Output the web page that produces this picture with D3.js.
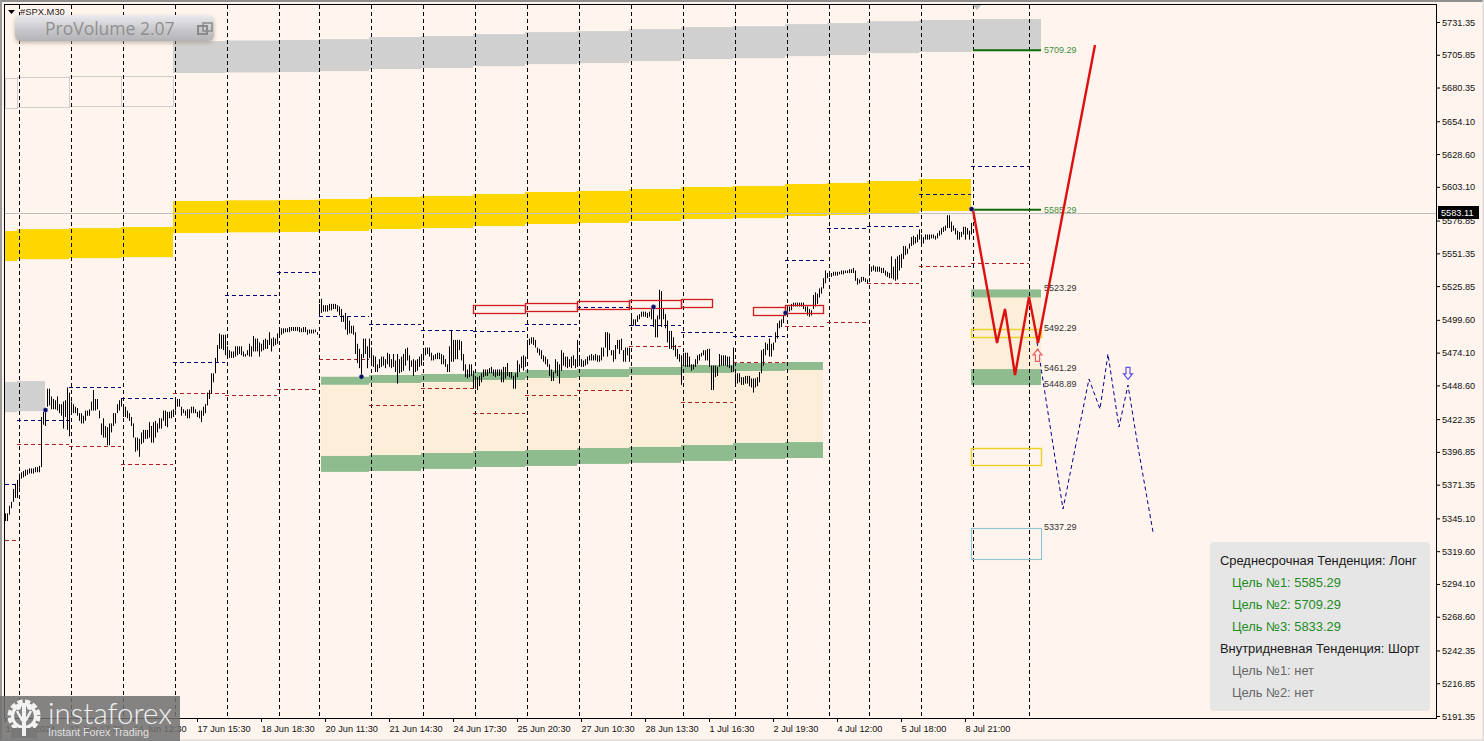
<!DOCTYPE html>
<html><head><meta charset="utf-8">
<script src="https://cdnjs.cloudflare.com/ajax/libs/d3/7.8.5/d3.min.js"></script>
<style>
html,body{margin:0;padding:0;background:#fff5ee;overflow:hidden}
svg{display:block}
text{font-family:"Liberation Sans",Arial,sans-serif}
</style></head><body>
<svg id="c" width="1484" height="741"></svg>
<script>
// ---------- data ----------
const priceTicks=[5731.35,5705.85,5680.35,5654.10,5628.60,5603.10,5576.85,5551.35,5525.85,5499.60,5474.10,5448.60,5422.35,5396.85,5371.35,5345.10,5319.60,5294.10,5268.60,5242.35,5216.85,5191.35];
const timeTickLabels=["11 Jun 2024","12 Jun 17:30","14 Jun 12:30","17 Jun 15:30","18 Jun 18:30","20 Jun 11:30","21 Jun 14:30","24 Jun 17:30","25 Jun 20:30","27 Jun 10:30","28 Jun 13:30","1 Jul 16:30","2 Jul 19:30","4 Jul 12:00","5 Jul 18:00","8 Jul 21:00"];
const timeTickBars=[0,32,64,96,128,160,192,224,256,288,320,352,384,416,448,480];
const daySeparators=[7,33,59,85,111,137,157,183,209,235,261,287,313,339,365,391,412,432,458,484,512];
const sessionEdges=[0,6,32,58,84,110,136,157,182,208,234,260,286,312,338,364,390,411,431,457,483,512];
const dailyHigh=[5371.9,5421.7,5447.4,5438.8,5466.8,5519.0,5536.8,5502.6,5496.4,5491.7,5490.9,5496.4,5509.6,5495.6,5490.1,5487.0,5546.2,5571.1,5572.6,5597.5,5619.3];
const dailyLow=[5328.3,5403.0,5401.4,5387.4,5442.7,5441.1,5445.8,5469.1,5433.3,5446.6,5427.1,5441.1,5445.0,5479.2,5435.7,5466.8,5494.8,5497.9,5528.3,5541.5,5543.8];

const goldEdgesEarly=[0,6,32,58,84];
const goldTopEarly=[5568.7,5570.2,5571.0,5571.8];
const goldWidthEarly=23.4;
const goldEdges=[84,110,136,157,182,208,234,260,286,312,338,364,390,411,431,457,483];
const goldTop=[5592.1,5592.6,5592.9,5593.6,5595.2,5596.0,5597.5,5599.1,5599.9,5601.4,5603.0,5603.7,5605.3,5606.1,5607.6,5609.2];
const goldWidth=24.9;
const grayEdges=[84,110,136,157,182,208,234,260,286,312,338,364,390,411,431,457,483,518];
const grayTop=[5716.5,5717.0,5717.3,5718.0,5719.6,5720.4,5721.9,5723.5,5724.3,5725.8,5727.4,5728.1,5729.7,5730.5,5732.0,5732.9,5733.7];
const grayBandWidth=24.9;
const hollowEdges=[0,6,32,58,84];
const hollowTop=[5687.5,5688.2,5689.0,5689.7];
const hollowWidth=23.5;
const leftGrayEdges=[0,6,20];
const leftGrayTop=[5451.2,5452.0];
const leftGrayWidth=23.5;

const zoneEdges=[158,182,208,234,260,286,312,338,364,390,409];
const zoneUpper=[5455.3,5456.7,5457.5,5459.0,5460.6,5461.3,5462.9,5464.5,5466.0,5466.8];
const zoneLower=[5393.7,5394.4,5396.0,5397.5,5398.3,5399.9,5400.7,5402.2,5403.8,5404.5];
const zoneUpperWidth=6.2, zoneLowerWidth=12.4;

const redBoxEdges=[234,260,286,312,338,353.5];
const redBoxTop=[5511.2,5512.7,5514.3,5515.0,5515.8];
const redBoxWidth=6.6;
const redBox2Edges=[374,390,409];
const redBox2Top=[5509.6,5511.2];

const targetLevels=[5709.29,5585.29];
const targetBars=[484,518];
const levelNotes=[5523.29,5492.29,5461.29,5448.89,5337.29];
const levelNoteBar=519.5;
const box1=[5523.29,5517.0,5461.29,5448.89];
const boxBars=[483,518];
const yellowBoxA=[5492.29,5486.0];
const yellowBoxB=[5399.9,5386.7];
const blueBox=[5337.29,5313.5];

const redPathBars=[484,496,500,505,512,516.5,545];
const redPathPrices=[5585.0,5481.6,5508.0,5456.7,5517.4,5481.6,5713.5];
const bluePathBars=[516,529,542,547.5,551.5,557,561.5,566.5,574];
const bluePathPrices=[5482.4,5352.4,5453.6,5430.2,5473.0,5416.2,5448.9,5400.7,5334.5];
const dotBars=[20,178,324,390,483];
const dotPrices=[5429.4,5455.3,5509.6,5505.0,5585.8];
const currentPrice=5583.11;

const panelLines=["Среднесрочная Тенденция: Лонг","Цель №1: 5585.29","Цель №2: 5709.29","Цель №3: 5833.29","Внутридневная Тенденция: Шорт","Цель №1: нет","Цель №2: нет"];
const panelKinds=["head","up","up","up","head","none","none"];

const barRanges=[
[5349,5343],[5349,5343],[5355,5348],[5358,5353],[5368,5358],[5372,5361],[5375,5361],[5380,5369],[5381,5376],[5382,5377],
[5383,5378],[5383,5379],[5384,5380],[5384,5380],[5384,5380],[5385,5381],[5385,5381],[5386,5381],[5424,5385],[5428,5418],
[5429,5417],[5446,5432],[5446,5433],[5440,5430],[5438,5430],[5437,5430],[5440,5429],[5434,5427],[5434,5425],[5436,5415],
[5437,5424],[5447,5414],[5443,5409],[5436,5427],[5434,5427],[5432,5427],[5431,5425],[5427,5421],[5427,5419],[5425,5419],
[5429,5421],[5429,5425],[5430,5425],[5436,5429],[5445,5429],[5438,5429],[5438,5430],[5429,5423],[5419,5410],[5423,5408],
[5417,5408],[5416,5402],[5419,5402],[5419,5412],[5427,5417],[5427,5419],[5434,5427],[5437,5429],[5438,5432],[5433,5424],
[5432,5424],[5429,5423],[5427,5421],[5424,5417],[5419,5408],[5408,5397],[5408,5398],[5407,5393],[5412,5403],[5414,5404],
[5414,5407],[5414,5407],[5420,5408],[5417,5404],[5420,5404],[5421,5408],[5419,5412],[5423,5415],[5423,5415],[5429,5421],
[5429,5417],[5428,5416],[5428,5423],[5429,5423],[5430,5424],[5438,5429],[5438,5432],[5438,5432],[5432,5425],[5430,5427],
[5429,5425],[5430,5423],[5430,5423],[5432,5427],[5432,5427],[5430,5427],[5428,5424],[5429,5423],[5429,5420],[5432,5425],
[5434,5427],[5443,5433],[5445,5438],[5458,5442],[5458,5451],[5470,5458],[5480,5467],[5489,5477],[5488,5477],[5488,5476],
[5488,5472],[5479,5471],[5476,5470],[5475,5470],[5475,5470],[5479,5471],[5479,5472],[5479,5473],[5479,5472],[5475,5471],
[5473,5471],[5476,5472],[5481,5471],[5479,5471],[5487,5475],[5485,5475],[5485,5475],[5482,5471],[5481,5475],[5484,5476],
[5485,5477],[5484,5477],[5490,5480],[5485,5475],[5486,5479],[5485,5480],[5489,5481],[5492,5486],[5493,5488],[5493,5489],
[5493,5490],[5493,5490],[5494,5490],[5494,5491],[5494,5491],[5494,5491],[5494,5491],[5494,5490],[5493,5490],[5494,5490],
[5494,5490],[5492,5488],[5492,5489],[5492,5489],[5492,5489],[5492,5490],[5490,5488],
[5512,5503],[5516,5505],[5511,5506],[5511,5506],[5511,5506],[5512,5507],[5512,5507],[5512,5508],[5512,5508],[5511,5506],
[5510,5503],[5508,5498],[5503,5498],[5505,5492],[5502,5488],[5499,5489],[5495,5489],[5495,5488],[5490,5473],[5481,5466],
[5477,5462],[5473,5456],[5485,5470],[5485,5473],[5479,5462],[5485,5470],
[5478,5465],[5472,5463],[5471,5459],[5465,5459],[5469,5462],[5471,5463],[5471,5464],[5469,5462],[5474,5465],[5473,5463],
[5469,5462],[5473,5463],[5468,5459],[5473,5450],[5469,5458],[5471,5459],[5473,5460],[5477,5464],[5478,5468],[5472,5460],
[5468,5463],[5469,5456],[5468,5459],[5469,5460],[5471,5463],[5473,5464],[5477,5468],[5478,5472],[5478,5473],[5478,5471],
[5474,5468],[5472,5468],[5473,5469],[5474,5469],[5474,5469],[5473,5465],[5472,5465],[5469,5463],[5465,5459],[5479,5459],
[5491,5467],[5484,5467],[5484,5469],[5484,5469],[5484,5476],[5483,5468],[5473,5460],[5465,5455],[5461,5454],[5465,5455],
[5465,5456],[5460,5446],[5456,5446],[5455,5445],[5456,5448],[5458,5451],[5461,5455],[5461,5456],[5461,5456],[5462,5458],
[5463,5458],[5461,5456],[5461,5455],[5461,5456],[5461,5456],[5461,5451],[5463,5451],[5463,5454],[5466,5456],[5459,5455],
[5459,5454],[5456,5446],[5458,5446],[5468,5455],[5465,5459],[5471,5462],[5472,5460],[5471,5463],[5484,5471],[5485,5480],
[5486,5481],[5486,5480],[5484,5478],[5478,5474],[5477,5472],[5476,5469],[5472,5467],[5471,5465],[5469,5463],[5465,5456],
[5461,5452],[5459,5452],[5469,5458],[5467,5456],[5465,5450],[5476,5460],[5474,5464],[5471,5463],[5471,5462],[5469,5463],
[5471,5462],[5472,5464],[5469,5462],[5484,5463],[5472,5465],[5469,5463],[5468,5463],[5469,5464],[5471,5465],[5472,5468],
[5473,5468],[5472,5468],[5473,5468],[5472,5467],[5472,5467],[5478,5468],[5478,5471],[5490,5478],[5490,5471],[5489,5476],
[5476,5472],[5476,5467],[5480,5469],[5484,5477],[5484,5473],[5485,5476],[5476,5467],[5478,5467],[5478,5472],[5478,5467],
[5502,5495],[5500,5495],[5500,5495],[5503,5498],[5504,5500],[5506,5502],[5506,5502],[5506,5502],[5505,5501],[5506,5502],
[5508,5500],[5511,5494],[5500,5486],[5503,5486],[5523,5500],[5522,5494],[5508,5500],[5504,5493],[5499,5482],[5491,5477],
[5491,5477],[5486,5476],[5480,5471],[5477,5469],[5473,5467],[5472,5449],[5474,5464],[5474,5463],[5474,5463],[5471,5463],
[5465,5460],[5465,5461],[5469,5463],[5472,5465],[5473,5468],[5474,5471],[5476,5472],[5476,5468],[5477,5468],[5477,5463],
[5464,5445],[5464,5445],[5464,5455],[5463,5456],[5473,5463],[5472,5464],[5472,5464],[5472,5464],[5471,5463],[5471,5462],
[5464,5459],[5478,5459],[5458,5449],[5458,5450],[5458,5451],
[5455,5449],[5455,5449],[5456,5450],[5456,5450],[5456,5448],[5454,5447],[5454,5443],[5454,5447],[5455,5448],[5459,5451],
[5476,5458],[5477,5464],[5482,5472],[5481,5476],[5485,5471],[5481,5471],[5482,5476],[5490,5482],[5497,5485],[5499,5493],
[5500,5494],[5503,5497],[5508,5503],[5510,5504],[5510,5506],[5512,5507],[5513,5510],[5513,5510],[5513,5510],[5513,5510],
[5513,5510],[5513,5508],[5510,5506],[5510,5503],[5508,5502],[5507,5503],[5519,5508],[5521,5510],[5520,5512],[5524,5517],
[5525,5520],[5532,5524],[5538,5528],[5536,5532],[5536,5533],[5536,5533],[5537,5534],[5537,5534],[5537,5534],[5537,5535],
[5538,5535],[5538,5535],[5538,5536],[5538,5536],[5539,5536],[5539,5536],[5540,5536],[5538,5530],[5532,5527],[5531,5528],
[5533,5529],[5533,5530],[5532,5529],[5531,5528],[5543,5534],[5541,5537],[5542,5538],[5541,5537],[5541,5537],[5541,5537],
[5540,5536],[5540,5536],[5538,5534],[5537,5533],[5536,5532],[5549,5532],[5541,5531],[5547,5530],[5549,5531],[5550,5538],
[5551,5540],[5557,5547],[5557,5550],[5555,5551],[5559,5555],[5564,5557],[5565,5558],[5564,5559],[5566,5560],[5570,5562],
[5566,5557],[5564,5559],[5566,5562],[5566,5562],[5566,5562],[5566,5563],[5566,5563],[5565,5562],[5567,5563],[5569,5565],
[5571,5566],[5572,5568],[5573,5569],[5581,5571],[5581,5571],[5576,5568],[5573,5569],[5571,5566],[5569,5562],[5568,5562],
[5568,5564],[5572,5566],[5572,5562],[5571,5566],[5569,5562],[5575,5566]
];

// ---------- scales ----------
const W=1484,H=741,L=4,T=4,R=1436,B=718;
const x=d3.scaleLinear().domain([0,715.5]).range([5,1436]);
const y=d3.scaleLinear().domain([5191.35,5731.35]).range([716,22]);
const svg=d3.select("#c");
const defs=svg.append("defs");
const grad=defs.append("linearGradient").attr("id","btn").attr("x1",0).attr("y1",0).attr("x2",0).attr("y2",1);
grad.append("stop").attr("offset",0).attr("stop-color","#ebebef");
grad.append("stop").attr("offset",0.55).attr("stop-color","#c9c9cd");
grad.append("stop").attr("offset",1).attr("stop-color","#b3b3b7");
const flt=defs.append("filter").attr("id","sh").attr("x","-10%").attr("y","-30%").attr("width","120%").attr("height","170%");
flt.append("feDropShadow").attr("dx",0).attr("dy",2).attr("stdDeviation",2).attr("flood-color","#a89c8c").attr("flood-opacity",0.7);

svg.append("rect").attr("width",W).attr("height",H).attr("fill","#fff5ee");

const steps=(edges,tops,w)=>tops.map((t,i)=>({x0:edges[i],x1:edges[i+1],t,b:t-w}));
const bandG=svg.append("g");
function band(edges,tops,w,fill){
  bandG.append("g").selectAll("rect").data(steps(edges,tops,w)).join("rect")
    .attr("x",d=>x(d.x0)).attr("width",d=>x(d.x1)-x(d.x0))
    .attr("y",d=>y(d.t)).attr("height",d=>y(d.b)-y(d.t)).attr("fill",fill);
}
bandG.append("g").selectAll("rect").data(steps(hollowEdges,hollowTop,hollowWidth)).join("rect")
  .attr("x",d=>x(d.x0)+.5).attr("width",d=>x(d.x1)-x(d.x0))
  .attr("y",d=>Math.round(y(d.t))+.5).attr("height",d=>Math.round(y(d.b)-y(d.t)))
  .attr("fill","none").attr("stroke","#cfcfcf");
band(grayEdges,grayTop,grayBandWidth,"#d0d0d0");
band(goldEdgesEarly,goldTopEarly,goldWidthEarly,"#ffd700");
band(goldEdges,goldTop,goldWidth,"#ffd700");
band(leftGrayEdges,leftGrayTop,leftGrayWidth,"#d0d0d0");

// accumulation zone
bandG.append("g").selectAll("rect").data(zoneUpper.map((u,i)=>({x0:zoneEdges[i],x1:zoneEdges[i+1],t:u,b:zoneLower[i]}))).join("rect")
  .attr("x",d=>x(d.x0)).attr("width",d=>x(d.x1)-x(d.x0)).attr("y",d=>y(d.t)).attr("height",d=>y(d.b)-y(d.t)).attr("fill","#fdeeda");
band(zoneEdges,zoneUpper,zoneUpperWidth,"#8fbc8f");
band(zoneEdges,zoneLower,zoneLowerWidth,"#8fbc8f");

// right zone
bandG.append("rect").attr("x",x(boxBars[0])).attr("width",x(boxBars[1])-x(boxBars[0])).attr("y",y(box1[0])).attr("height",y(box1[3])-y(box1[0])).attr("fill","#fdeeda");
bandG.append("rect").attr("x",x(boxBars[0])).attr("width",x(boxBars[1])-x(boxBars[0])).attr("y",y(box1[0])).attr("height",y(box1[1])-y(box1[0])).attr("fill","#8fbc8f");
bandG.append("rect").attr("x",x(boxBars[0])).attr("width",x(boxBars[1])-x(boxBars[0])).attr("y",y(box1[2])).attr("height",y(box1[3])-y(box1[2])).attr("fill","#8fbc8f");

// day separators
svg.append("g").selectAll("line").data(daySeparators).join("line")
  .attr("x1",d=>x(d)+.5).attr("x2",d=>x(d)+.5).attr("y1",T+1).attr("y2",B)
  .attr("stroke","#000").attr("stroke-dasharray","4,3");

// outlined boxes
function outline(a,color,w){
  svg.append("rect").attr("x",x(boxBars[0])+.5).attr("width",x(boxBars[1])-x(boxBars[0]))
   .attr("y",Math.round(y(a[0]))+.5).attr("height",Math.round(y(a[1])-y(a[0]))).attr("fill","none").attr("stroke",color).attr("stroke-width",w||1);
}
outline(yellowBoxA,"#f0d020",1.4);outline(yellowBoxB,"#f0d020",1.4);outline(blueBox,"#8fc4d8",1.1);

// current price line
svg.append("line").attr("x1",L).attr("x2",R).attr("y1",Math.round(y(currentPrice))+.5).attr("y2",Math.round(y(currentPrice))+.5).attr("stroke","#c0c0c0");

// daily high / low pivots
function pivots(vals,color){
  svg.append("g").selectAll("line").data(vals.map((v,i)=>({v,a:sessionEdges[i],b:sessionEdges[i+1]}))).join("line")
   .attr("x1",d=>x(d.a)).attr("x2",d=>x(d.b)).attr("y1",d=>Math.round(y(d.v))+.5).attr("y2",d=>Math.round(y(d.v))+.5)
   .attr("stroke",color).attr("stroke-dasharray","4,3");
}
pivots(dailyHigh,"#000080");
pivots(dailyLow,"#b22222");

// price bars
svg.append("g").selectAll("line").data(barRanges).join("line")
  .attr("x1",(d,i)=>x(i)+.5).attr("x2",(d,i)=>x(i)+.5)
  .attr("y1",d=>y(d[0])).attr("y2",d=>y(d[1])).attr("stroke","#000").attr("stroke-width",1);

// red boxes
function redBoxes(edges,tops){
  svg.append("g").selectAll("rect").data(steps(edges,tops,redBoxWidth)).join("rect")
  .attr("x",d=>x(d.x0)+.5).attr("width",d=>x(d.x1)-x(d.x0)).attr("y",d=>Math.round(y(d.t))+.5).attr("height",d=>Math.round(y(d.b)-y(d.t)))
  .attr("fill","none").attr("stroke","#d01c1c").attr("stroke-width",1.3);
}
redBoxes(redBoxEdges,redBoxTop);redBoxes(redBox2Edges,redBox2Top);

// target lines + labels
svg.append("g").selectAll("line").data(targetLevels).join("line")
  .attr("x1",x(targetBars[0])).attr("x2",x(targetBars[1])).attr("y1",d=>y(d)).attr("y2",d=>y(d))
  .attr("stroke","#0b6b0b").attr("stroke-width",2);
const fmt2=d3.format(".2f");
svg.append("g").selectAll("text").data(targetLevels).join("text")
  .attr("x",x(levelNoteBar)).attr("y",d=>y(d)+3).attr("font-size",9).attr("fill","#3f8f3f").text(fmt2);
svg.append("g").selectAll("text").data(levelNotes).join("text")
  .attr("x",x(levelNoteBar)).attr("y",d=>y(d)+2).attr("font-size",9).attr("fill","#333").text(fmt2);

// forecast paths
const ln=d3.line().x(d=>x(d[0])).y(d=>y(d[1]));
svg.append("path").attr("d",ln(bluePathBars.map((b,i)=>[b,bluePathPrices[i]])))
  .attr("fill","none").attr("stroke","#00008b").attr("stroke-dasharray","4,3");
svg.append("path").attr("d",ln(redPathBars.map((b,i)=>[b,redPathPrices[i]])))
  .attr("fill","none").attr("stroke","#dd0f0f").attr("stroke-width",2.4);

// hollow arrows
const arrowUp="M0,-6L4.5,-0.5L2,-0.5L2,6L-2,6L-2,-0.5L-4.5,-0.5Z";
svg.append("path").attr("d",arrowUp).attr("transform",`translate(${x(516)+.5},${y(5472)})`).attr("fill","#fff5ee").attr("stroke","#f06060").attr("stroke-width",1.2);
svg.append("path").attr("d",arrowUp).attr("transform",`translate(${x(561.5)},${y(5458)}) scale(1,-1)`).attr("fill","#fff5ee").attr("stroke","#5a50e6").attr("stroke-width",1.2);

// dots
svg.append("g").selectAll("circle").data(dotBars).join("circle")
  .attr("cx",(d)=>x(d)+.5).attr("cy",(d,i)=>y(dotPrices[i])).attr("r",2.4)
  .attr("fill","#0a0a60").attr("stroke","#9db4e8").attr("stroke-opacity",.5).attr("stroke-width",.8);

// top marker
svg.append("path").attr("d",d3.line()([[972,4],[982,4],[977,10]])+"Z").attr("fill","#bdbdbd");

// frame
svg.append("rect").attr("x",L+.5).attr("y",T+.5).attr("width",R-L).attr("height",B-T).attr("fill","none").attr("stroke","#000");
svg.append("rect").attr("width",W).attr("height",2).attr("fill","#8f8f8f");
svg.append("rect").attr("width",2).attr("height",H).attr("fill","#9a9a9a");
svg.append("rect").attr("x",W-1.5).attr("width",1.5).attr("height",H).attr("fill","#dcdcdc");
svg.append("rect").attr("y",H-1.5).attr("width",W).attr("height",1.5).attr("fill","#dcdcdc");

// axes
const axR=d3.axisRight(y).tickValues(priceTicks).tickFormat(fmt2).tickSize(4).tickSizeOuter(0);
const gR=svg.append("g").attr("transform",`translate(${R},0)`).call(axR);
gR.select(".domain").remove();
gR.selectAll("text").attr("font-family",'"Liberation Sans",Arial,sans-serif').attr("font-size",9.2).attr("fill","#111").attr("x",6).attr("dy","0.33em");
const axB=d3.axisBottom(x).tickValues(timeTickBars).tickFormat((d,i)=>timeTickLabels[i]).tickSize(4).tickSizeOuter(0);
const gB=svg.append("g").attr("transform",`translate(0,${B})`).call(axB);
gB.select(".domain").remove();
gB.selectAll("text").attr("font-family",'"Liberation Sans",Arial,sans-serif').attr("font-size",9.2).attr("fill","#111").attr("text-anchor","start").attr("y",7).attr("dy","0.71em").attr("x",0);

// current price tag
const tagY=y(currentPrice);
svg.append("rect").attr("x",1438).attr("y",tagY-6.5).attr("width",41).attr("height",13).attr("fill","#000");
svg.append("text").attr("x",1441).attr("y",tagY+3.5).attr("font-size",9.2).attr("fill","#fff").text(fmt2(currentPrice));

// symbol
svg.append("path").attr("d","M8,10L15,10L11.5,14Z").attr("fill","#000");
svg.append("text").attr("x",20).attr("y",15).attr("font-size",9.4).attr("fill","#222").text("#SPX,M30");

// ProVolume button
svg.append("rect").attr("x",15).attr("y",15).attr("width",199).attr("height",26).attr("rx",6).attr("fill","url(#btn)").attr("filter","url(#sh)");
svg.append("text").attr("x",45).attr("y",35).attr("font-size",17.5).attr("style",'font-family:"Open Sans",sans-serif').attr("fill","#8f8f8f").text("ProVolume 2.07");
svg.append("rect").attr("x",198).attr("y",26).attr("width",9).attr("height",8).attr("fill","none").attr("stroke","#8a8a8a").attr("stroke-width",2);
svg.append("rect").attr("x",203).attr("y",23).attr("width",9).attr("height",8).attr("fill","none").attr("stroke","#8a8a8a").attr("stroke-width",1.5);

// info panel
svg.append("rect").attr("x",1210).attr("y",542).attr("width",220).attr("height",169).attr("rx",4).attr("fill","#e6e6e6");
const kindFill={head:"#1a1a1a",up:"#228b22",none:"#666"};
svg.append("g").selectAll("text").data(panelLines).join("text")
  .attr("x",(d,i)=>panelKinds[i]==="head"?1220:1232).attr("y",(d,i)=>565+22*i)
  .attr("font-size",12.9).attr("fill",(d,i)=>kindFill[panelKinds[i]]).text(d=>d);

// watermark
const wm=svg.append("g");
wm.append("rect").attr("x",0).attr("y",696).attr("width",180).attr("height",45).attr("fill","#707070").attr("fill-opacity",.86);
wm.append("circle").attr("cx",24).attr("cy",716).attr("r",14).attr("fill","none").attr("stroke","#f2f2f2").attr("stroke-width",5).attr("stroke-dasharray","5,2.4");
wm.append("circle").attr("cx",24).attr("cy",716).attr("r",11.5).attr("fill","none").attr("stroke","#f2f2f2").attr("stroke-width",3);
wm.append("rect").attr("x",11).attr("y",728).attr("width",26).attr("height",10).attr("fill","#787878");
wm.append("path").attr("d","M15,707a3,3 0 1,0 6,0a3,3 0 1,0 -6,0M27,707a3,3 0 1,0 6,0a3,3 0 1,0 -6,0M22,703h4v33h-4z").attr("fill","#f2f2f2");
wm.append("path").attr("d","M17,711L22,720L26,720L31,711").attr("fill","none").attr("stroke","#f2f2f2").attr("stroke-width",2.5);
wm.append("text").attr("x",48).attr("y",724).attr("style",'font-family:Lato,sans-serif;font-weight:300;font-size:29.5px').attr("fill","#f0f0f0").text("instaforex");
wm.append("text").attr("x",48).attr("y",736).attr("style",'font-family:"Liberation Sans",sans-serif;font-size:10.7px').attr("fill","#e0e0e0").text("Instant Forex Trading");
</script>
</body></html>
